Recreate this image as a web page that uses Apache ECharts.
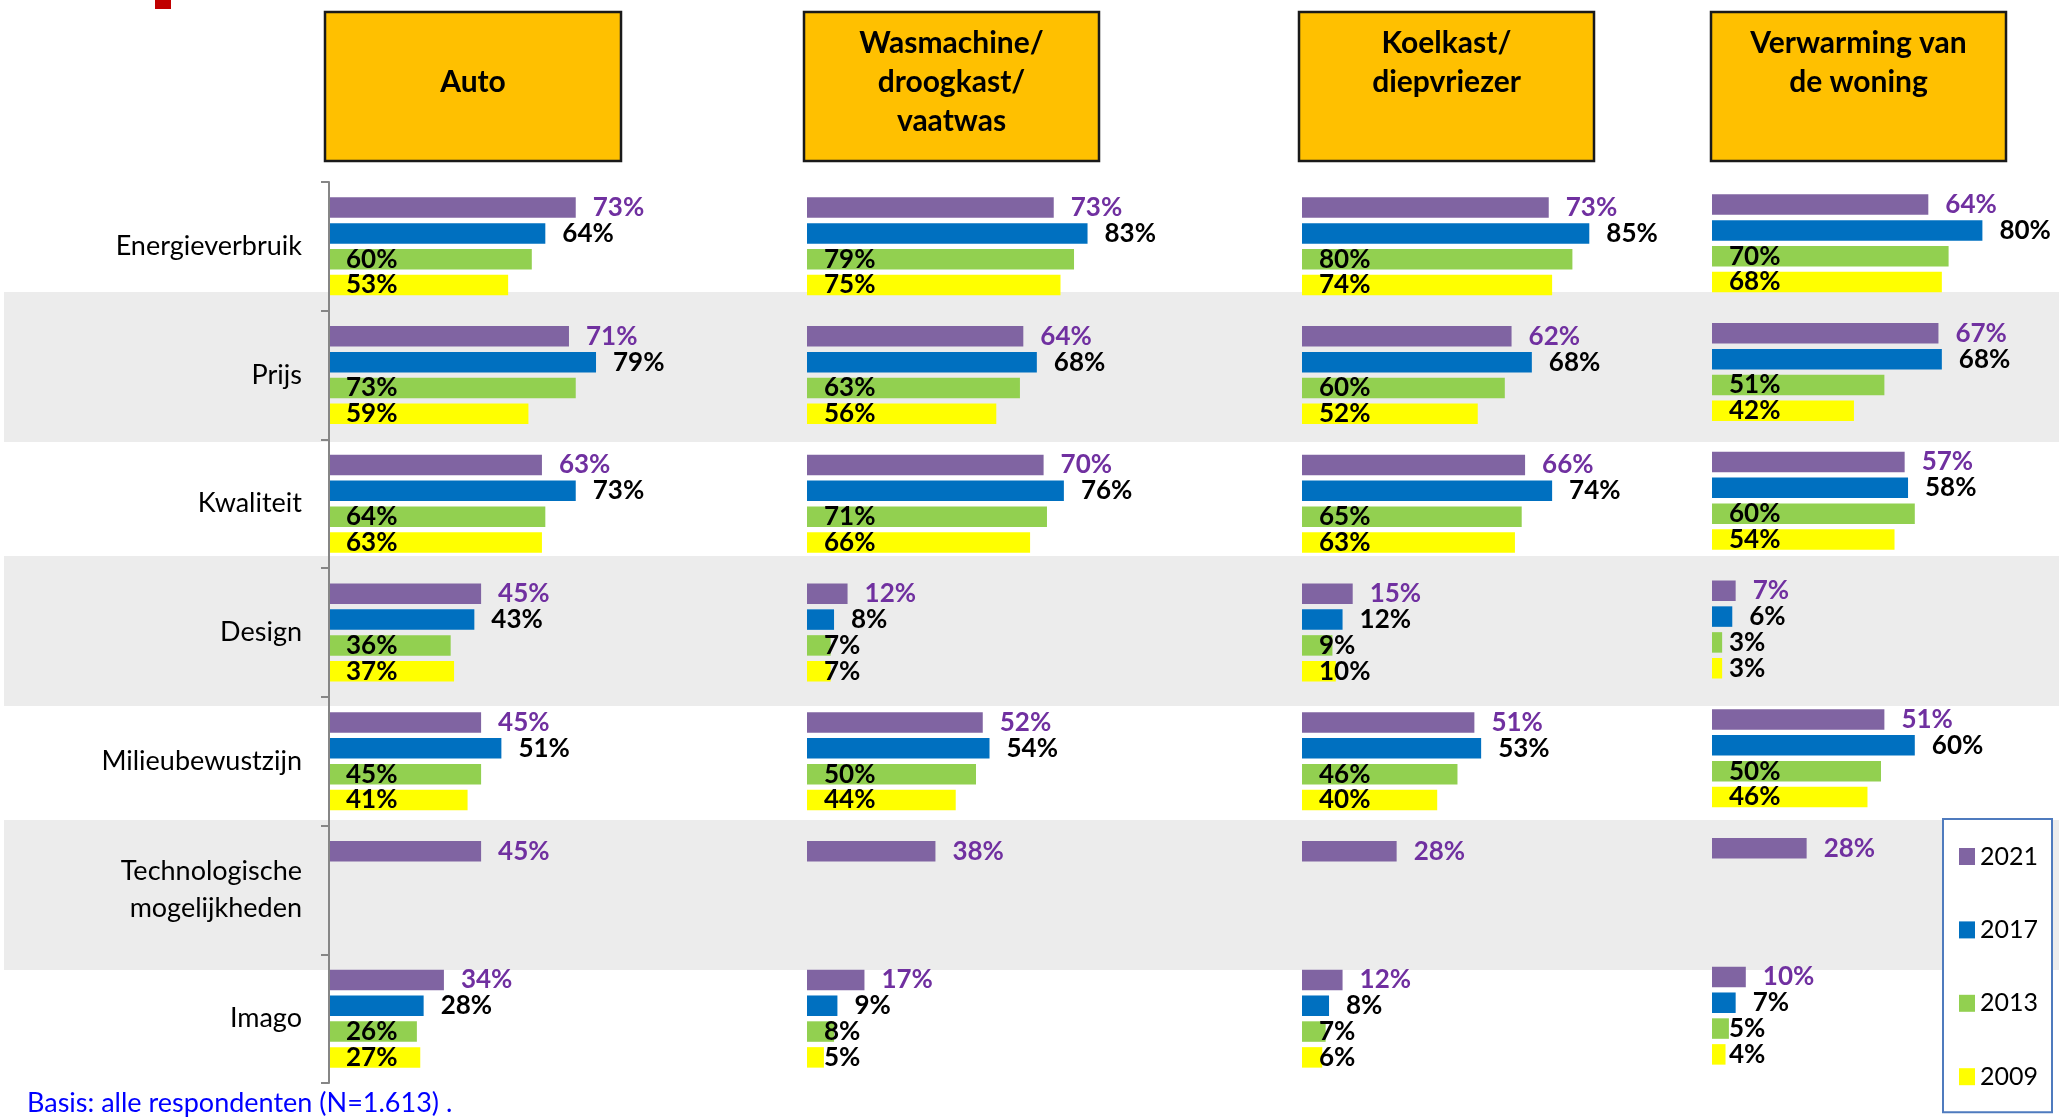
<!DOCTYPE html>
<html>
<head>
<meta charset="utf-8">
<title>Belangrijkste aankoopcriteria</title>
<script src="https://cdn.jsdelivr.net/npm/echarts@6/dist/echarts.min.js"></script>
<style>
  html, body { margin: 0; padding: 0; background: #fff; }
  #chart { width: 2059px; height: 1119px; }
</style>
</head>
<body>
<div id="chart"></div>
<script>
// categorieen (van boven naar beneden)
const categories = ['Energieverbruik', 'Prijs', 'Kwaliteit', 'Design', 'Milieubewustzijn',
  'Technologische\nmogelijkheden', 'Imago'];
const years = ['2021', '2017', '2013', '2009'];
const panelTitles = ['Auto', 'Wasmachine/\ndroogkast/\nvaatwas', 'Koelkast/\ndiepvriezer', 'Verwarming van\nde woning'];

// percentages per jaar: [2021, 2017, 2013, 2009]
const autoData = [
  [73, 71, 63, 45, 45, 45, 34],
  [64, 79, 73, 43, 51, null, 28],
  [60, 73, 64, 36, 45, null, 26],
  [53, 59, 63, 37, 41, null, 27]
];
const wasmachineData = [
  [73, 64, 70, 12, 52, 38, 17],
  [83, 68, 76, 8, 54, null, 9],
  [79, 63, 71, 7, 50, null, 8],
  [75, 56, 66, 7, 44, null, 5]
];
const koelkastData = [
  [73, 62, 66, 15, 51, 28, 12],
  [85, 68, 74, 12, 53, null, 8],
  [80, 60, 65, 9, 46, null, 7],
  [74, 52, 63, 10, 40, null, 6]
];
const verwarmingData = [
  [64, 67, 57, 7, 51, 28, 10],
  [80, 68, 58, 6, 60, null, 7],
  [70, 51, 60, 3, 50, null, 5],
  [68, 42, 54, 3, 46, null, 4]
];
const panelData = [autoData, wasmachineData, koelkastData, verwarmingData];

const colors = ['#8064A2', '#0070C0', '#92D050', '#FFFF00'];
const FONT = 'Lato, "Open Sans", sans-serif';

// layout van de vier panelen
const gridLefts = [329, 807, 1302, 1712];
const gridTops = [182, 182, 182, 179];
const boxes = [
  { x: 325, w: 296, textY: 82 },
  { x: 804, w: 295, textY: 82 },
  { x: 1299, w: 295, textY: 62.5 },
  { x: 1711, w: 295, textY: 62.5 }
];

const myChart = echarts.init(document.getElementById('chart'));

const grids = [], xAxes = [], yAxes = [], series = [];
panelData.forEach(function (data, p) {
  grids.push({ left: gridLefts[p], top: gridTops[p], width: 338, height: 901 });
  xAxes.push({ gridIndex: p, type: 'value', min: 0, max: 100, show: false });
  yAxes.push({
    gridIndex: p,
    type: 'category',
    inverse: true,
    data: categories,
    z: 5,
    axisLine: { show: p === 0, lineStyle: { color: '#868686', width: 2 } },
    axisTick: { show: p === 0, length: 8, lineStyle: { color: '#868686', width: 2 } },
    axisLabel: {
      show: p === 0,
      margin: 27,
      color: '#000',
      fontFamily: FONT,
      fontSize: 27,
      lineHeight: 37
    }
  });
  years.forEach(function (y, i) {
    const inside = i >= 2;
    series.push({
      name: y,
      type: 'bar',
      xAxisIndex: p,
      yAxisIndex: p,
      data: data[i],
      barWidth: 20.5,
      barGap: '26%',
      itemStyle: { color: colors[i] },
      label: {
        show: true,
        position: inside ? 'insideLeft' : 'right',
        distance: 17,
        formatter: '{c}%',
        color: i === 0 ? '#7030A0' : '#000',
        fontFamily: FONT,
        fontWeight: 'bold',
        fontSize: 26
      },
      emphasis: { disabled: true }
    });
  });
});

// grijze banden en koppen
const graphics = [
  { type: 'rect', z: -1, shape: { x: 155, y: 0, width: 16, height: 9 }, style: { fill: '#C00000' } }
];
[292, 556, 820].forEach(function (y) {
  graphics.push({ type: 'rect', z: -1, shape: { x: 4, y: y, width: 2055, height: 150 }, style: { fill: '#ECECEC' } });
});
boxes.forEach(function (b, p) {
  graphics.push({
    type: 'rect',
    shape: { x: b.x, y: 12, width: b.w, height: 149 },
    style: { fill: '#FFC000', stroke: '#1a1a1a', lineWidth: 2.5 }
  });
  graphics.push({
    type: 'text',
    style: {
      text: panelTitles[p],
      x: b.x + b.w / 2,
      y: b.textY,
      align: 'center',
      verticalAlign: 'middle',
      fill: '#000',
      fontFamily: FONT,
      fontWeight: 'bold',
      fontSize: 30,
      lineHeight: 39
    }
  });
});
graphics.push({
  type: 'text',
  style: {
    text: 'Basis: alle respondenten (N=1.613) .',
    x: 27,
    y: 1103,
    verticalAlign: 'middle',
    fill: '#0000FF',
    fontFamily: FONT,
    fontSize: 27
  }
});

const option = {
  animation: false,
  grid: grids,
  xAxis: xAxes,
  yAxis: yAxes,
  series: series,
  graphic: graphics,
  legend: {
    data: years,
    orient: 'vertical',
    left: 1943,
    top: 819,
    padding: [25, 14, 23, 16],
    itemGap: 48.4,
    itemWidth: 16,
    itemHeight: 17,
    icon: 'rect',
    backgroundColor: '#fff',
    borderColor: '#4F7BBE',
    borderWidth: 2,
    textStyle: { color: '#000', fontFamily: FONT, fontSize: 25, lineHeight: 25 }
  }
};

myChart.setOption(option);
</script>
</body>
</html>
